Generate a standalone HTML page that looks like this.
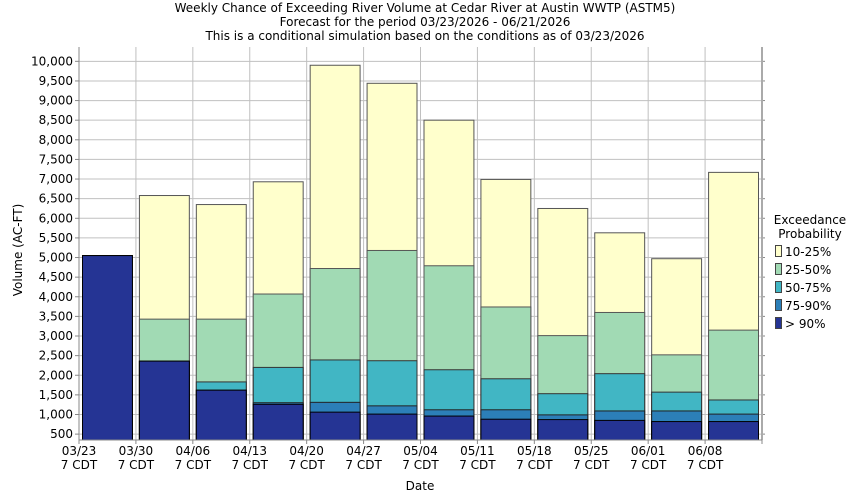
<!DOCTYPE html>
<html><head><meta charset="utf-8"><style>
body{margin:0;background:#fff;font-family:"DejaVu Sans","Liberation Sans",sans-serif;}
svg text{font-family:"DejaVu Sans","Liberation Sans",sans-serif;fill:#000;}
</style></head><body>
<svg id="c" width="850" height="500" xmlns="http://www.w3.org/2000/svg">
<g font-size="12" text-anchor="middle">
<text x="425" y="12">Weekly Chance of Exceeding River Volume at Cedar River at Austin WWTP (ASTM5)</text>
<text x="425" y="26">Forecast for the period 03/23/2026 - 06/21/2026</text>
<text x="425" y="40">This is a conditional simulation based on the conditions as of 03/23/2026</text>
</g>
<text font-size="12" text-anchor="middle" transform="translate(22,250) rotate(-90)">Volume (AC-FT)</text>
<text font-size="12" text-anchor="middle" x="420" y="490">Date</text>
<g id="grid"></g><g id="bars"></g><g id="axes"></g>
<g font-size="12">
<text x="810" y="224" text-anchor="middle">Exceedance</text>
<text x="810" y="238" text-anchor="middle">Probability</text>
<g id="leg"></g>
</g>
</svg>
<script>
const categories=["03/23","03/30","04/06","04/13","04/20","04/27","05/04","05/11","05/18","05/25","06/01","06/08"];
const p10_25=[5050,6580,6350,6930,9900,9440,8500,6990,6250,5630,4970,7170];
const p25_50=[5050,3430,3430,4070,4720,5180,4790,3740,3010,3600,2520,3150];
const p50_75=[5050,2360,1830,2200,2390,2370,2140,1910,1530,2040,1570,1370];
const p75_90=[5050,2360,1620,1300,1310,1220,1120,1120,990,1090,1090,1010];
const p90=[5050,2360,1620,1260,1060,1010,960,880,870,850,820,820];
const yTicks=[500,1000,1500,2000,2500,3000,3500,4000,4500,5000,5500,6000,6500,7000,7500,8000,8500,9000,9500,10000];
const seriesNames=["10-25%","25-50%","50-75%","75-90%","> 90%"];
const NS="http://www.w3.org/2000/svg";
const L=79,R=762,T=47,B=440,yMin=350,yMax=10365;
const y=v=>B-(v-yMin)/(yMax-yMin)*(B-T);
const x=i=>L+i*(R-L)/categories.length;
function mk(t,a,p){const e=document.createElementNS(NS,t);for(const k in a)e.setAttribute(k,a[k]);p.appendChild(e);return e;}
const grid=document.getElementById('grid'),bars=document.getElementById('bars'),axes=document.getElementById('axes'),leg=document.getElementById('leg');
yTicks.forEach(v=>{
 const g=mk('line',{x1:L,x2:R,y1:y(v),y2:y(v),stroke:'#c0c0c0'},grid);
 
 
 mk('line',{x1:L-4,x2:L,y1:y(v),y2:y(v),stroke:'#888'},axes);
 mk('line',{x1:R,x2:R+3,y1:y(v),y2:y(v),stroke:'#888'},axes);
 const t=mk('text',{x:L-6,y:y(v)+4,'font-size':12,'text-anchor':'end'},axes);
 t.textContent=v.toLocaleString('en-US');
 
 
});
categories.forEach((c,i)=>{
 if(i>0){const g=mk('line',{x1:x(i),x2:x(i),y1:T,y2:B,stroke:'#c0c0c0'},grid);
 
 }
 mk('line',{x1:x(i),x2:x(i),y1:B,y2:B+4,stroke:'#888'},axes);
 const t=mk('text',{x:x(i),y:B+15,'font-size':12,'text-anchor':'middle'},axes);
 t.textContent=c;
 
 
 const t2=mk('text',{x:x(i),y:B+29,'font-size':12,'text-anchor':'middle'},axes);
 t2.textContent='7 CDT';
 
 
});
mk('line',{x1:R,x2:R,y1:B,y2:B+4,stroke:'#888'},axes);
mk('line',{x1:L,x2:L,y1:T,y2:B,stroke:'#888'},axes);
mk('line',{x1:R,x2:R,y1:T,y2:B,stroke:'#aaa','stroke-width':2},axes);
mk('line',{x1:L,x2:R,y1:B,y2:B,stroke:'#888'},axes);
const series=[p10_25,p25_50,p50_75,p75_90,p90];
const colors=["#FFFFCC","#A1DAB4","#41B6C4","#2C7FB8","#253494"];
const strokes=["#555","#555","#333","#222","#000"];
const keys=["p10-25","p25-50","p50-75","p75-90","p90"];
const w=(R-L)/categories.length;
series.forEach((s,k)=>{
 s.forEach((v,i)=>{
  const r=mk('rect',{x:x(i)+3.5,y:y(v),width:w-7,height:B-y(v),fill:colors[k],stroke:strokes[k],'stroke-width':1},bars);
  
  
 });
});
seriesNames.forEach((n,k)=>{
 const yy=245+k*18;
 const r=mk('rect',{x:775.5,y:yy+0.5,width:6,height:11,fill:colors[k],stroke:'#444'},leg);
 
 
 const t=mk('text',{x:785,y:yy+11,'font-size':12},leg);
 t.textContent=n;
 
 
});
</script>
</body></html>
